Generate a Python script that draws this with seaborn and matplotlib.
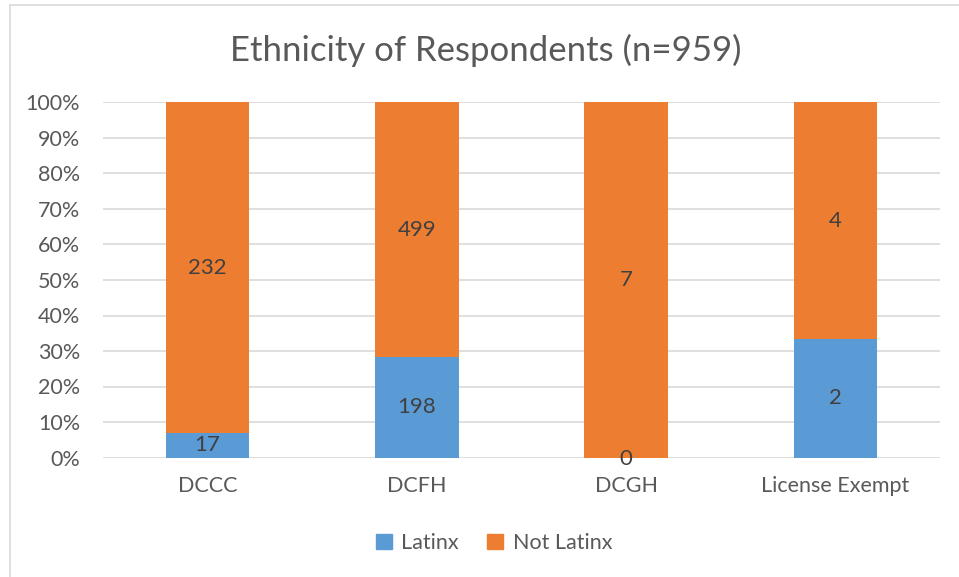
import matplotlib.pyplot as plt
import matplotlib.ticker as mtick
import pandas as pd
import seaborn as sns

categories = ["DCCC", "DCFH", "DCGH", "License Exempt"]
latinx = [17, 198, 0, 2]
not_latinx = [232, 499, 7, 4]

BLUE = "#5B9BD5"
ORANGE = "#ED7D31"
TEXT = "#595959"

df = pd.DataFrame({"Category": categories, "Latinx": latinx, "Not Latinx": not_latinx})
df["total"] = df["Latinx"] + df["Not Latinx"]
df["Latinx_pct"] = df["Latinx"] / df["total"]
df["Not_pct"] = df["Not Latinx"] / df["total"]
# stacked top of each bar = 100%
df["Stack_top"] = df["Latinx_pct"] + df["Not_pct"]

sns.set_theme(style="white")
plt.rcParams["font.family"] = ["Lato", "DejaVu Sans"]

fig = plt.figure(figsize=(9.59, 5.77), dpi=100)
ax = fig.add_axes([103 / 959, 1 - 457.5 / 577, 837 / 959, 355 / 577])

sns.barplot(data=df, x="Category", y="Stack_top", color=ORANGE, width=0.4,
            saturation=1, linewidth=0, ax=ax, zorder=2)
sns.barplot(data=df, x="Category", y="Latinx_pct", color=BLUE, width=0.4,
            saturation=1, linewidth=0, ax=ax, zorder=3)

for i, row in df.iterrows():
    lp = row["Latinx_pct"]
    if lp > 0:
        ax.text(i, lp / 2, str(row["Latinx"]), ha="center", va="center",
                fontsize=16, color="#404040", zorder=4)
    else:
        ax.text(i, -0.005, str(row["Latinx"]), ha="center", va="center",
                fontsize=16, color="#404040", zorder=4)
    ax.text(i, lp + row["Not_pct"] / 2, str(row["Not Latinx"]), ha="center",
            va="center", fontsize=16, color="#404040", zorder=4)

ax.set_ylim(0, 1)
ax.set_xlim(-0.5, 3.5)
ax.set_yticks([i / 10 for i in range(11)])
ax.yaxis.set_major_formatter(mtick.PercentFormatter(1.0, decimals=0))
ax.grid(axis="y", color="#D9D9D9", linewidth=1.2, zorder=0)
ax.set_axisbelow(True)
for s in ax.spines.values():
    s.set_visible(False)
ax.tick_params(axis="y", length=0, pad=16.5, labelsize=15.5, labelcolor=TEXT)
ax.tick_params(axis="x", length=0, pad=13, labelsize=15.5, labelcolor=TEXT)
ax.set_xlabel("")
ax.set_ylabel("")

fig.text(486 / 959, 1 - 50 / 577, "Ethnicity of Respondents (n=959)",
         ha="center", va="center", fontsize=25, color=TEXT)

handles = [plt.Rectangle((0, 0), 1, 1, color=BLUE),
           plt.Rectangle((0, 0), 1, 1, color=ORANGE)]
fig.legend(handles, ["Latinx", "Not Latinx"], loc="center",
           bbox_to_anchor=(494 / 959, 1 - 543 / 577), ncol=2, frameon=False,
           fontsize=15.5, labelcolor=TEXT, handlelength=0.75, handleheight=0.75,
           handletextpad=0.45, columnspacing=1.3)

# chart-area border
fig.add_artist(plt.Line2D([10 / 959, 1], [1 - 4.5 / 577] * 2, color="#D9D9D9",
                          linewidth=1.2, transform=fig.transFigure))
fig.add_artist(plt.Line2D([10 / 959] * 2, [0, 1 - 4.5 / 577], color="#D9D9D9",
                          linewidth=1.2, transform=fig.transFigure))

fig.savefig("out.png", dpi=100)
